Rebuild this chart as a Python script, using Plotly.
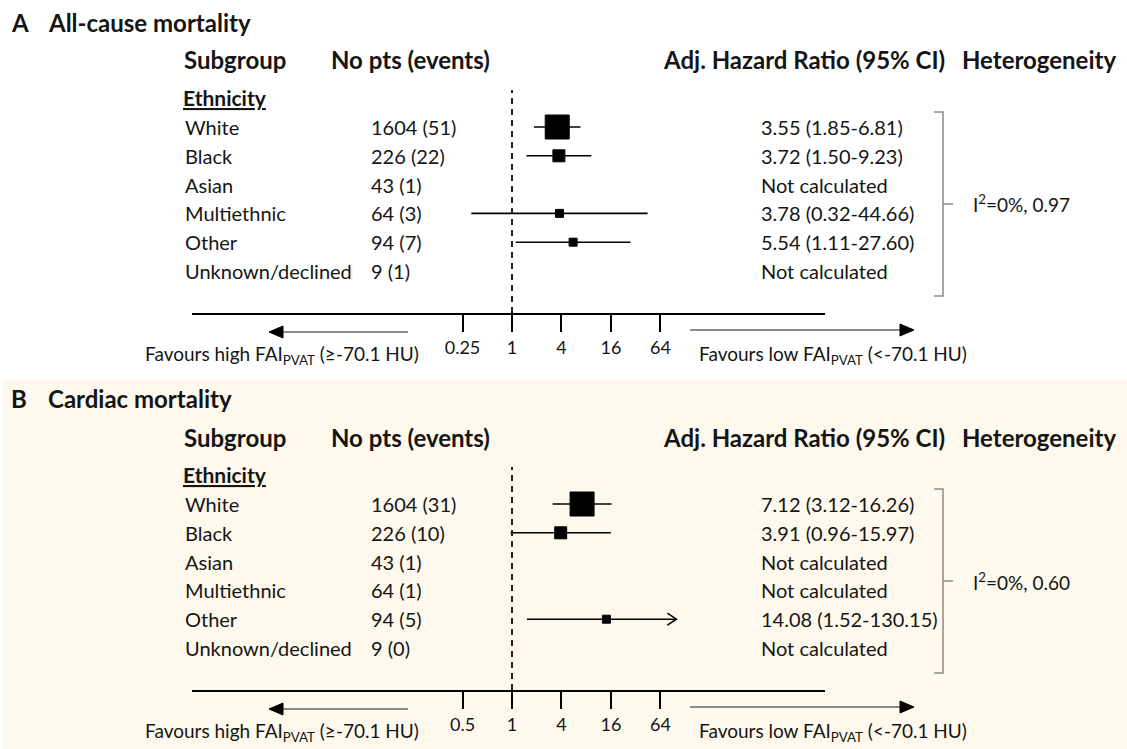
import plotly.graph_objects as go

# ---------------- data ----------------
subgroups = ["White", "Black", "Asian", "Multiethnic", "Other", "Unknown/declined"]

a_counts = ["1604 (51)", "226 (22)", "43 (1)", "64 (3)", "94 (7)", "9 (1)"]
a_hr = [3.55, 3.72, None, 3.78, 5.54, None]
a_lo = [1.85, 1.50, None, 0.32, 1.11, None]
a_hi = [6.81, 9.23, None, 44.66, 27.60, None]
a_heterogeneity = "I<sup>2</sup>=0%, 0.97"
a_tick_values = [0.25, 1, 4, 16, 64]
a_tick_labels = ["0.25", "1", "4", "16", "64"]

b_counts = ["1604 (31)", "226 (10)", "43 (1)", "64 (1)", "94 (5)", "9 (0)"]
b_hr = [7.12, 3.91, None, None, 14.08, None]
b_lo = [3.12, 0.96, None, None, 1.52, None]
b_hi = [16.26, 15.97, None, None, 130.15, None]
b_heterogeneity = "I<sup>2</sup>=0%, 0.60"
b_tick_values = [0.25, 1, 4, 16, 64]
b_tick_labels = ["0.5", "1", "4", "16", "64"]

# ---------------- style / layout ----------------
W, H = 1127, 749
FONT = "Lato"
CREAM = "#FEF9EC"
GREY = "#8a8a8a"
INK = "#151515"

HEAD_SIZE = 24
ROW_SIZE = 20
SMALL_SIZE = 19

box_sizes_a = [24, 12, 0, 8, 8, 0]
box_sizes_b = [24, 12, 0, 0, 8, 0]

ROW0 = 127          # pixel row of first subgroup in panel A
ROW_STEP = 28.8     # pixel distance between rows
AXIS_Y = 313        # pixel y of the x axis line in panel A
PLOT_TOP = 85
X_LEFT, X_RIGHT, X_ONE = 192, 825, 512
PX_PER_DECADE = 82.2
X_CLIP = 100        # CIs beyond this are drawn with an arrow
PANEL_SHIFT = 377   # vertical offset of panel B


def px(x):
    return x / W


def py(y):
    return 1 - y / H


def fmt_ci(hr, lo, hi):
    if hr is None:
        return "Not calculated"
    return f"{hr:.2f} ({lo:.2f}-{hi:.2f})"


def paper_path(points, close=False):
    d = " ".join(("M" if i == 0 else "L") + f"{px(x)},{py(y)}"
                 for i, (x, y) in enumerate(points))
    return d + (" Z" if close else "")


fig = go.Figure()
shapes, annotations = [], []

# cream background behind panel B
shapes.append(dict(type="rect", xref="paper", yref="paper", x0=px(3), x1=1,
                   y0=0, y1=py(380), fillcolor=CREAM, line=dict(width=0),
                   layer="below"))


def add_panel(idx, dy, letter, title, counts, hr, lo, hi, het,
              tick_values, tick_labels, box_sizes):
    xname = "x" if idx == 1 else f"x{idx}"
    yname = "y" if idx == 1 else f"y{idx}"
    xkey = "xaxis" if idx == 1 else f"xaxis{idx}"
    ykey = "yaxis" if idx == 1 else f"yaxis{idx}"

    axis_y = AXIS_Y + dy
    top_y = PLOT_TOP + dy
    row0 = ROW0 + dy
    rows = [-i for i in range(len(subgroups))]

    # axes: log-scale HR axis, numeric row axis
    left = -(X_ONE - X_LEFT) / PX_PER_DECADE
    right = (X_RIGHT - X_ONE) / PX_PER_DECADE
    fig.update_layout(**{
        xkey: dict(type="log", domain=[px(X_LEFT), px(X_RIGHT)],
                   range=[left, right], anchor=yname,
                   showline=True, linecolor="black", linewidth=2,
                   ticks="outside", ticklen=17, tickwidth=2, tickcolor="black",
                   tickvals=tick_values, ticktext=tick_labels,
                   tickfont=dict(family=FONT, size=18, color=INK),
                   showgrid=False, zeroline=False, fixedrange=True),
        ykey: dict(domain=[py(axis_y), py(top_y)],
                   range=[-(axis_y - row0) / ROW_STEP, (row0 - top_y) / ROW_STEP],
                   anchor=xname, visible=False, showgrid=False,
                   zeroline=False, fixedrange=True),
    })

    # confidence interval lines
    cx, cy = [], []
    for r, h, l, u in zip(rows, hr, lo, hi):
        if h is None:
            continue
        cx += [l, min(u, X_CLIP), None]
        cy += [r, r, None]
    fig.add_trace(go.Scatter(x=cx, y=cy, mode="lines", xaxis=xname, yaxis=yname,
                             line=dict(color="black", width=1.6),
                             hoverinfo="skip", showlegend=False))

    # point estimates
    mx = [h for h in hr if h is not None]
    my = [r for r, h in zip(rows, hr) if h is not None]
    ms = [s for s, h in zip(box_sizes, hr) if h is not None]
    fig.add_trace(go.Scatter(x=mx, y=my, mode="markers", xaxis=xname, yaxis=yname,
                             opacity=1,
                             marker=dict(symbol="square", size=ms, color="#000000",
                                         opacity=1,
                                         line=dict(width=1, color="#000000")),
                             showlegend=False))

    # open arrowhead for intervals running past the axis limit
    for r, u in zip(rows, hi):
        if u is not None and u > X_CLIP:
            shapes.append(dict(type="path", xref=xname, yref=yname,
                               xsizemode="pixel", ysizemode="pixel",
                               xanchor=X_CLIP, yanchor=r,
                               path="M-9,6 L0,0 L-9,-6",
                               line=dict(color="black", width=1.6)))

    # line of no effect
    shapes.append(dict(type="line", xref=xname, yref="paper", x0=1, x1=1,
                       y0=py(axis_y), y1=py(90 + dy),
                       line=dict(color="#222", width=2, dash="6px,5px")))

    # panel title and column headers
    def label(x, y, text, size=ROW_SIZE, bold=False, anchor="left", yref="paper"):
        annotations.append(dict(xref="paper", yref=yref, x=x, y=y,
                                text=f"<b>{text}</b>" if bold else text,
                                showarrow=False, xanchor=anchor, yanchor="middle",
                                font=dict(family=FONT, size=size, color=INK)))

    label(px(9), py(22 + dy), letter, size=HEAD_SIZE, bold=True)
    label(px(46), py(22 + dy), title, size=HEAD_SIZE, bold=True)
    label(px(182), py(60 + dy), "Subgroup", size=HEAD_SIZE, bold=True)
    label(px(329), py(60 + dy), "No pts (events)", size=HEAD_SIZE, bold=True)
    label(px(661), py(60 + dy), "Adj. Hazard Ratio (95% CI)", size=HEAD_SIZE, bold=True)
    label(px(960), py(60 + dy), "Heterogeneity", size=HEAD_SIZE, bold=True)
    label(px(181), py(97 + dy), "<u>Ethnicity</u>", size=21, bold=True)

    for r, name, n, h, l, u in zip(rows, subgroups, counts, hr, lo, hi):
        label(px(183), r, name, yref=yname)
        label(px(369), r, n, yref=yname)
        label(px(759), r, fmt_ci(h, l, u), yref=yname)

    # heterogeneity bracket
    top, bot, mid = 112 + dy, 296 + dy, 204 + dy
    shapes.append(dict(type="path", xref="paper", yref="paper",
                       path=paper_path([(934, top), (943, top), (943, bot), (934, bot)]),
                       line=dict(color=GREY, width=1.5)))
    shapes.append(dict(type="line", xref="paper", yref="paper",
                       x0=px(943), x1=px(953), y0=py(mid), y1=py(mid),
                       line=dict(color=GREY, width=1.5)))
    label(px(971), py(mid), het, size=SMALL_SIZE)

    # favours arrows: grey shaft, black head
    ly, ry = 332 + dy, 330 + dy
    shapes.append(dict(type="line", xref="paper", yref="paper",
                       x0=px(408), x1=px(280), y0=py(ly), y1=py(ly),
                       line=dict(color=GREY, width=2)))
    shapes.append(dict(type="path", xref="paper", yref="paper",
                       path=paper_path([(269, ly), (283, ly - 6), (283, ly + 6)], close=True),
                       fillcolor="black", line=dict(color="black", width=1)))
    shapes.append(dict(type="line", xref="paper", yref="paper",
                       x0=px(690), x1=px(902), y0=py(ry), y1=py(ry),
                       line=dict(color=GREY, width=2)))
    shapes.append(dict(type="path", xref="paper", yref="paper",
                       path=paper_path([(914, ry), (900, ry - 6), (900, ry + 6)], close=True),
                       fillcolor="black", line=dict(color="black", width=1)))
    label(px(143), py(355 + dy), "Favours high FAI<sub>PVAT</sub> (≥-70.1 HU)",
          size=SMALL_SIZE)
    label(px(697), py(355 + dy), "Favours low FAI<sub>PVAT</sub> (&lt;-70.1 HU)",
          size=SMALL_SIZE)


add_panel(1, 0, "A", "All-cause mortality", a_counts, a_hr, a_lo, a_hi,
          a_heterogeneity, a_tick_values, a_tick_labels, box_sizes_a)
add_panel(2, PANEL_SHIFT, "B", "Cardiac mortality", b_counts, b_hr, b_lo, b_hi,
          b_heterogeneity, b_tick_values, b_tick_labels, box_sizes_b)

fig.update_layout(width=W, height=H, margin=dict(l=0, r=0, t=0, b=0),
                  paper_bgcolor="white", plot_bgcolor="rgba(0,0,0,0)",
                  showlegend=False, shapes=shapes, annotations=annotations,
                  font=dict(family=FONT))

fig.write_html("out.html")
